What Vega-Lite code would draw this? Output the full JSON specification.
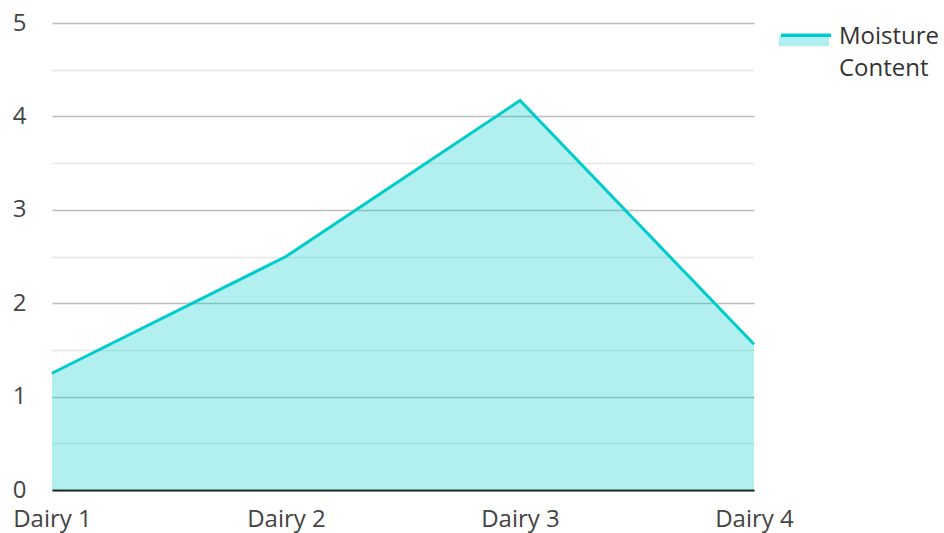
{
  "$schema": "https://vega.github.io/schema/vega-lite/v6.json",
  "width": 702,
  "height": 467,
  "autosize": "none",
  "padding": {"left": 52, "top": 23, "right": 190, "bottom": 43},
  "background": "white",
  "config": {
    "font": "Open Sans",
    "view": {"stroke": null}
  },
  "data": {
    "values": [
      {"dairy": "Dairy 1", "moisture": 1.25, "series": "Moisture Content", "band": "Moisture Content area"},
      {"dairy": "Dairy 2", "moisture": 2.5, "series": "Moisture Content", "band": "Moisture Content area"},
      {"dairy": "Dairy 3", "moisture": 4.17, "series": "Moisture Content", "band": "Moisture Content area"},
      {"dairy": "Dairy 4", "moisture": 1.56, "series": "Moisture Content", "band": "Moisture Content area"}
    ]
  },
  "encoding": {
    "x": {
      "field": "dairy",
      "type": "nominal",
      "scale": {"type": "point", "padding": 0},
      "axis": {
        "title": null,
        "labelAngle": 0,
        "labelFontSize": 24,
        "labelColor": "#444444",
        "labelPadding": 17,
        "ticks": false,
        "grid": false,
        "domain": true,
        "domainColor": "#222222",
        "domainWidth": 2
      }
    },
    "y": {
      "field": "moisture",
      "type": "quantitative",
      "scale": {"domain": [0, 5], "nice": false},
      "axis": {
        "title": null,
        "values": [0, 0.5, 1, 1.5, 2, 2.5, 3, 3.5, 4, 4.5, 5],
        "labelExpr": "datum.value % 1 === 0 ? format(datum.value, 'd') : ''",
        "labelFontSize": 24,
        "labelColor": "#444444",
        "labelPadding": 26,
        "ticks": false,
        "domain": false,
        "grid": true,
        "gridColor": {"condition": {"test": "datum.value % 1 === 0", "value": "#bdbdbd"}, "value": "#e6e6e6"},
        "gridWidth": 1.5
      }
    }
  },
  "layer": [
    {
      "mark": {"type": "area", "opacity": 0.3},
      "encoding": {
        "fill": {
          "field": "band",
          "type": "nominal",
          "scale": {"range": ["#00cccc"]},
          "legend": {
            "title": null,
            "orient": "none",
            "legendX": 727,
            "legendY": -13,
            "padding": 0,
            "symbolType": "M-1,0.01H1V0.45H-1Z",
            "symbolSize": 2500,
            "symbolStrokeWidth": 0,
            "labelFontSize": 24,
            "labelExpr": "''",
            "labelOffset": 6,
            "encode": {"symbols": {"update": {"fill": {"value": "#b3f0f0"}, "opacity": {"value": 1}, "strokeWidth": {"value": 0}}}}
          }
        }
      }
    },
    {
      "mark": {"type": "line", "strokeWidth": 3},
      "encoding": {
        "stroke": {
          "field": "series",
          "type": "nominal",
          "scale": {"range": ["#00cccc"]},
          "legend": {
            "title": null,
            "orient": "none",
            "legendX": 727,
            "legendY": -13,
            "padding": 0,
            "symbolType": "M-1,-0.07H1",
            "symbolSize": 2500,
            "symbolStrokeWidth": 3.5,
            "labelFontSize": 24,
            "labelColor": "#333333",
            "labelExpr": "['Moisture', 'Content']",
            "labelBaseline": "middle",
            "labelOffset": 6,
            "encode": {"labels": {"update": {"lineHeight": {"value": 32}}}}
          }
        }
      }
    }
  ]
}
